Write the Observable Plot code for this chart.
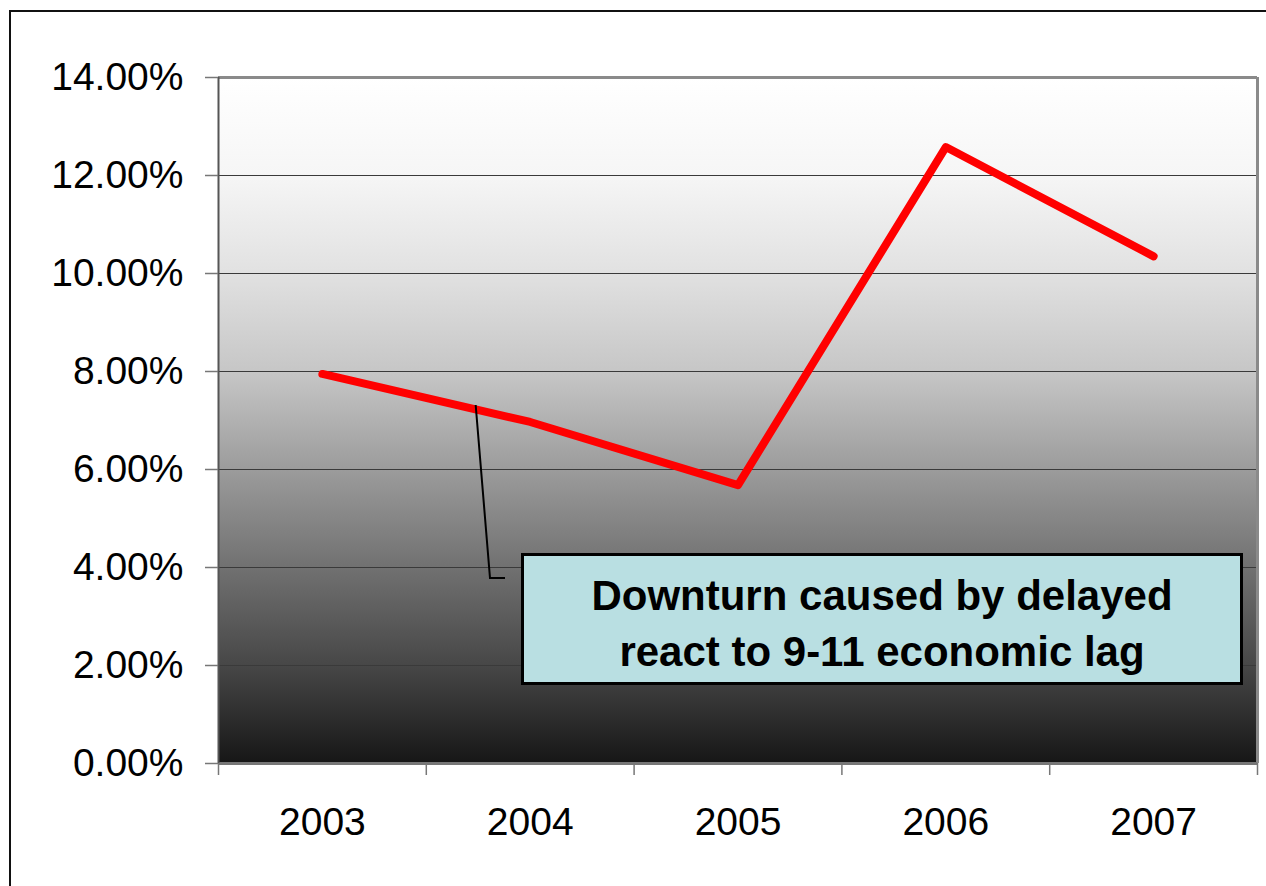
<!DOCTYPE html>
<html>
<head>
<meta charset="utf-8">
<script src="https://cdn.jsdelivr.net/npm/d3@7"></script>
<script src="https://cdn.jsdelivr.net/npm/@observablehq/plot@0.6"></script>
<style>
  html, body { margin: 0; padding: 0; background: #fff; width: 1266px; height: 886px; overflow: hidden; }
  #wrap { position: relative; width: 1266px; height: 886px; }
  #outer { position: absolute; left: 9px; top: 10px; width: 1400px; height: 1000px; border: 2px solid #111; box-sizing: border-box; }
  #chart { position: absolute; left: 0; top: 0; }
  #note {
    position: absolute; left: 521px; top: 553px; width: 722px; height: 132px;
    box-sizing: border-box; border: 3px solid #000; background: #b9dfe2;
    font-family: "Liberation Sans", Arial, sans-serif; font-weight: bold; font-size: 42px;
    line-height: 56px; text-align: center; color: #000; padding-top: 12px;
  }
</style>
</head>
<body>
<div id="wrap">
  <div id="outer"></div>
  <div id="chart"></div>
  <div id="note">Downturn caused by delayed<br>react to 9-11 economic lag</div>
</div>
<script>
const years = ["2003", "2004", "2005", "2006", "2007"];
const rates = [0.0795, 0.0697, 0.0568, 0.1258, 0.1035];
const yTicks = [0, 0.02, 0.04, 0.06, 0.08, 0.10, 0.12, 0.14];
const annotationYearIndex = 0;      // leader starts on segment 2003 -> 2004
const annotationFraction = 0.74;    // position along that segment

const data = years.map((y, i) => ({year: y, idx: i + 0.5, value: rates[i]}));
const bandEdges = d3.range(years.length + 1);
const bandCenters = years.map((_, i) => i + 0.5);

const font = "'Liberation Sans', Arial, sans-serif";

const chart = Plot.plot({
  width: 1266,
  height: 886,
  marginLeft: 218,
  marginRight: 9,
  marginTop: 77,
  marginBottom: 123,
  style: {fontFamily: font, background: "transparent", overflow: "visible"},
  x: {type: "linear", domain: [0, years.length]},
  y: {domain: [0, 0.14]},
  marks: [
    Plot.frame({fill: "url(#bgGrad)", stroke: null}),
    Plot.gridY(yTicks, {stroke: "#3a3a3a", strokeOpacity: 1, strokeWidth: 1.2}),
    Plot.ruleY([0.14], {stroke: "#8a8a8a", strokeWidth: 3}),
    Plot.ruleX([years.length], {stroke: "#8a8a8a", strokeWidth: 3}),
    Plot.ruleY([0], {stroke: "#777", strokeWidth: 3}),
    Plot.ruleX([0], {stroke: "#555", strokeWidth: 2}),
    Plot.axisY(yTicks, {
      tickSize: 13, tickPadding: 22, tickFormat: d3.format(".2%"),
      fontSize: 39, stroke: "#777", strokeWidth: 1.5, fill: "#000", label: null
    }),
    Plot.axisX(bandEdges, {
      tickSize: 12, tickFormat: () => "", stroke: "#777", strokeWidth: 1.5, label: null
    }),
    Plot.axisX(bandCenters, {
      tickSize: 0, tickPadding: 44, tickFormat: (d) => years[Math.floor(d)],
      fontSize: 39, fill: "#000", label: null
    }),
    Plot.line(data, {x: "idx", y: "value", stroke: "#ff0000", strokeWidth: 8, strokeLinecap: "round", strokeLinejoin: "round"})
  ]
});

document.getElementById("chart").appendChild(chart);

// gradient background definition
const svg = d3.select(chart);
const defs = svg.insert("defs", ":first-child");
const grad = defs.append("linearGradient").attr("id", "bgGrad")
  .attr("x1", 0).attr("y1", 0).attr("x2", 0).attr("y2", 1);
[[0, "#ffffff"], [0.14, "#f6f6f6"], [0.28, "#e2e2e2"], [0.43, "#c6c6c6"],
 [0.57, "#9c9c9c"], [0.71, "#727272"], [0.86, "#464646"], [1, "#161616"]]
  .forEach(([o, c]) => grad.append("stop").attr("offset", o).attr("stop-color", c));

// leader line from the data line to the note box
const sx = chart.scale("x"), sy = chart.scale("y");
const i0 = annotationYearIndex;
const ax = sx.apply(data[i0].idx + annotationFraction);
const ay = sy.apply(rates[i0] + annotationFraction * (rates[i0 + 1] - rates[i0])) - 4;
svg.append("path")
  .attr("d", `M${ax},${ay} L490,578 L505,578`)
  .attr("fill", "none").attr("stroke", "#000").attr("stroke-width", 2);
</script>
</body>
</html>
